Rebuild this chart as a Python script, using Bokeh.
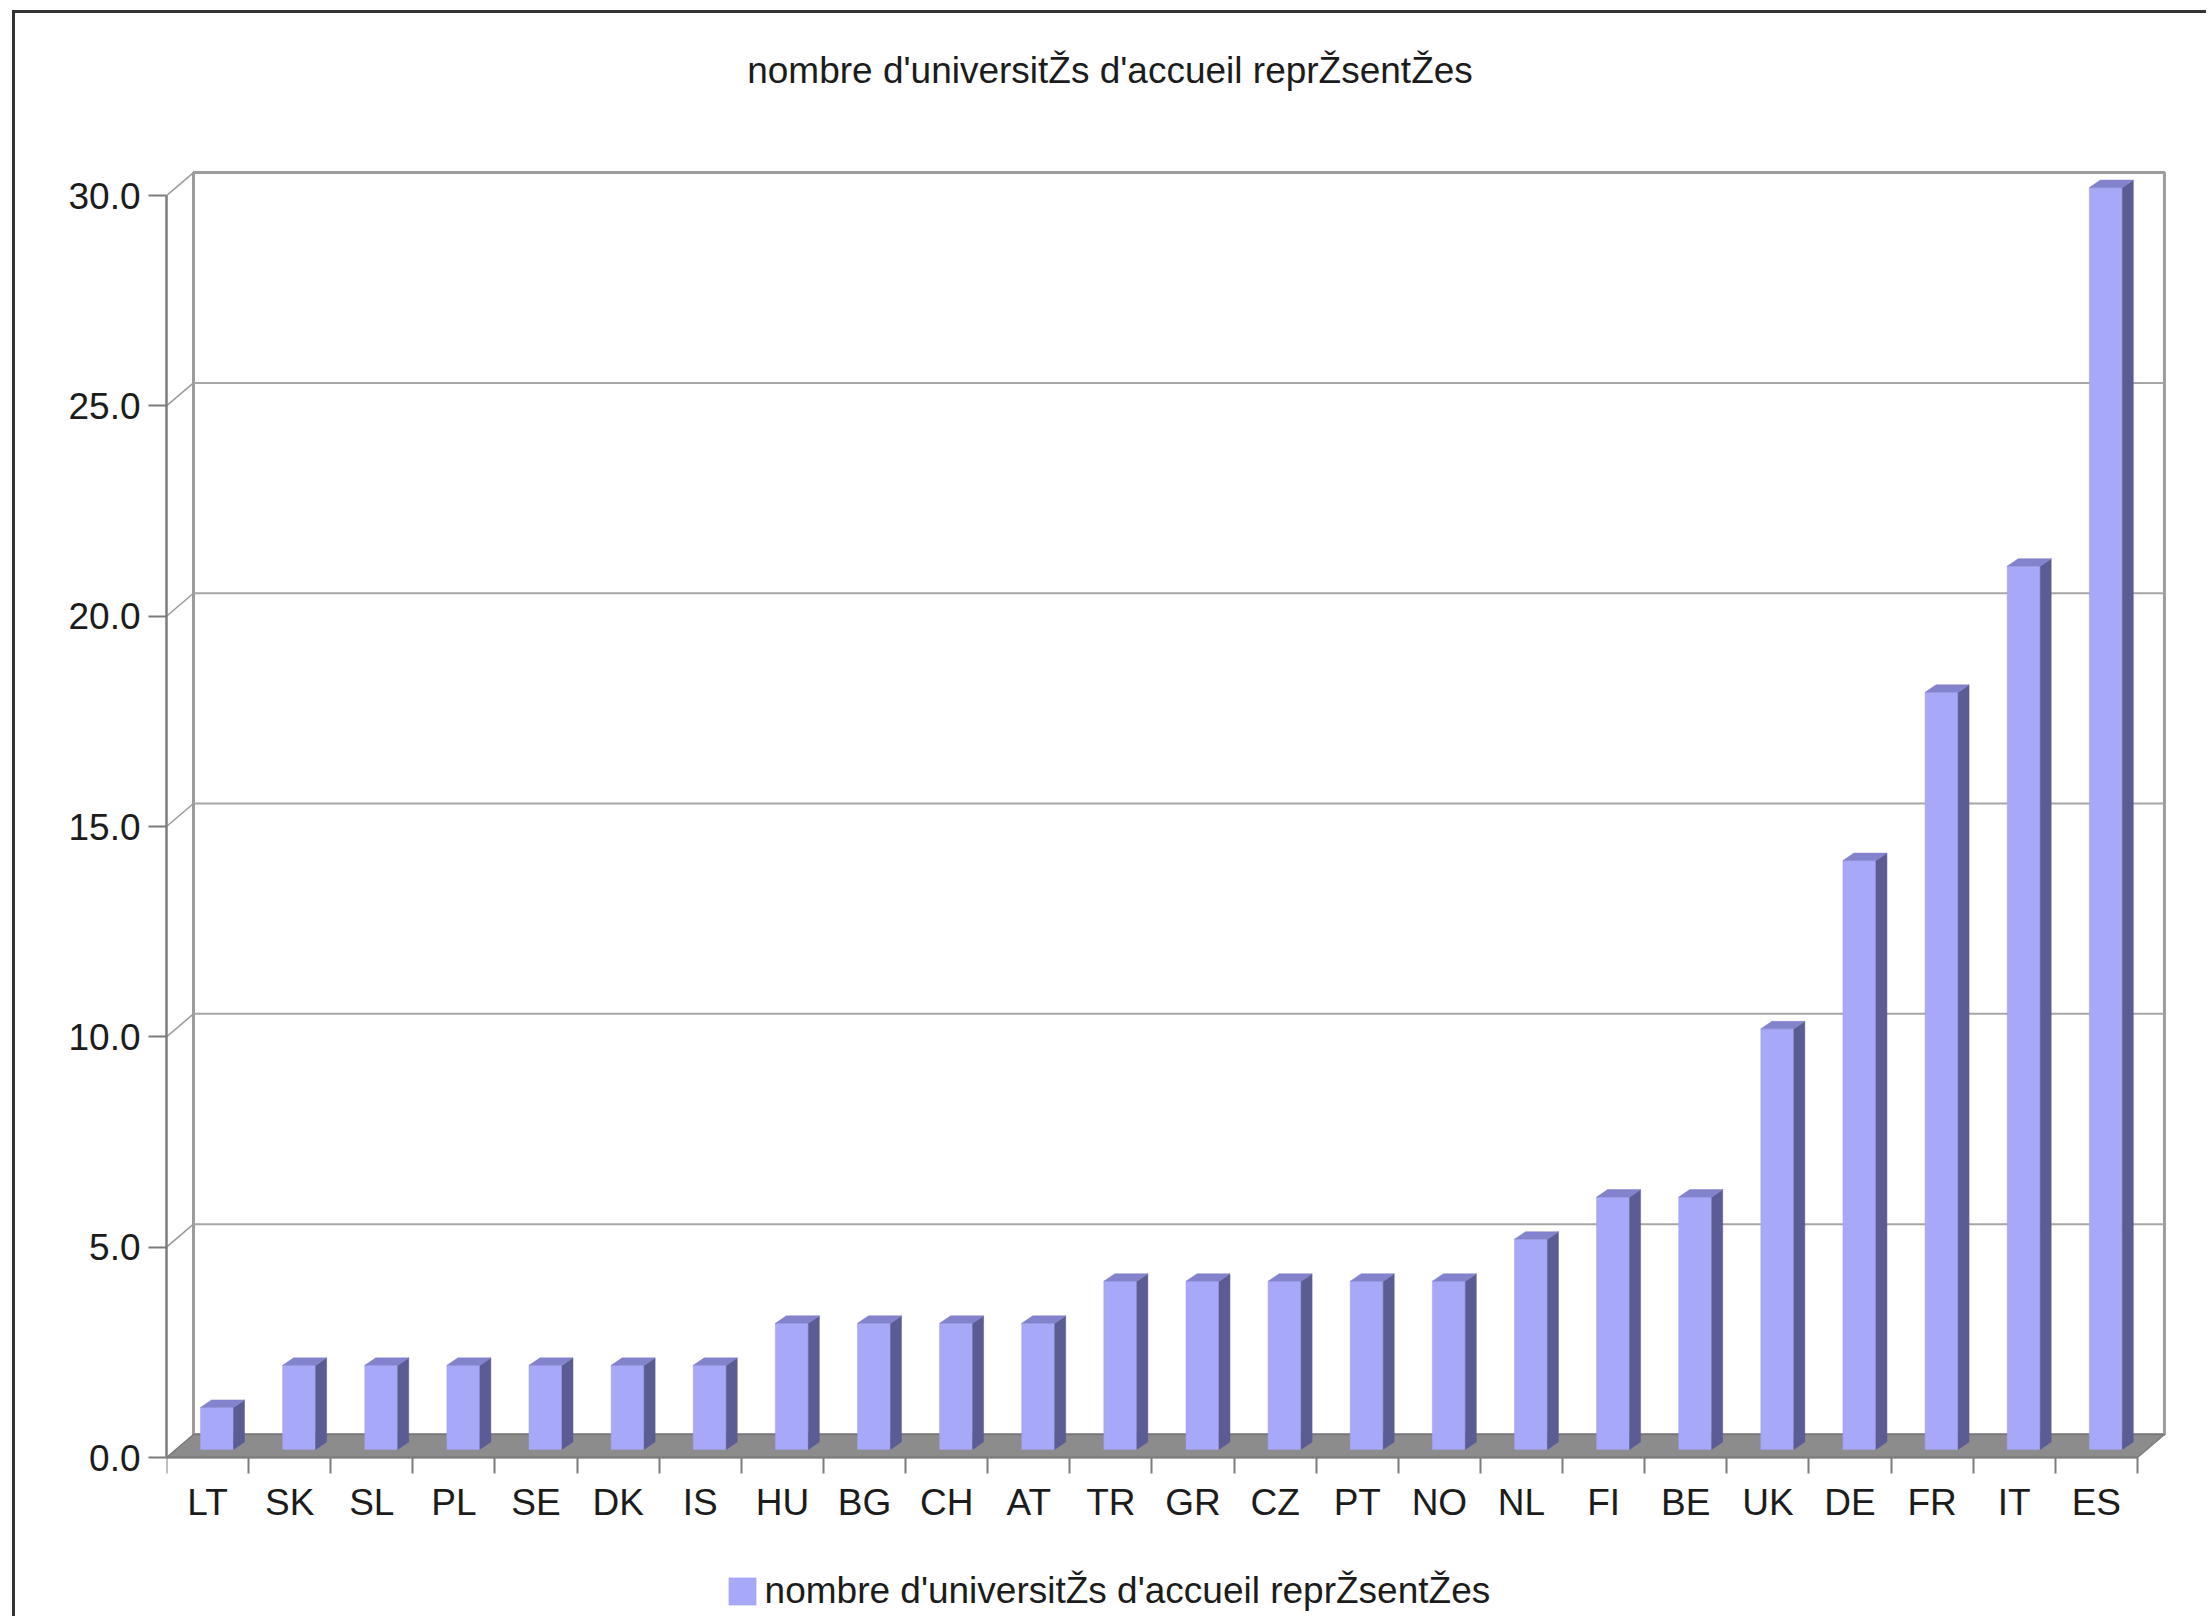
from bokeh.plotting import figure
from bokeh.models import (Range1d, LinearAxis, FixedTicker, Legend, LegendItem,
                          ColumnDataSource, Label)
from bokeh.embed import file_html
from bokeh.resources import INLINE

# ---------------- data ----------------
countries = ["LT", "SK", "SL", "PL", "SE", "DK", "IS", "HU", "BG", "CH", "AT", "TR",
             "GR", "CZ", "PT", "NO", "NL", "FI", "BE", "UK", "DE", "FR", "IT", "ES"]
values = [1, 2, 2, 2, 2, 2, 2, 3, 3, 3, 3, 4, 4, 4, 4, 4, 5, 6, 6, 10, 14, 18, 21, 30]
y_ticks = [0, 5, 10, 15, 20, 25, 30]
y_tick_labels = ["0.0", "5.0", "10.0", "15.0", "20.0", "25.0", "30.0"]
series_name = "nombre d'universitŽs d'accueil reprŽsentŽes"
chart_title = "nombre d'universitŽs d'accueil reprŽsentŽes"

# ---------------- style / geometry ----------------
FONT = "Liberation Sans"
TXT = "#1c1c1c"
N = len(countries)
X_END = N + 0.5
W, H = 2194, 1606
MB_L, MB_R = 151, 31
ABOVE = 140                      # room over the chart area (title)
BELOW = 162                      # room under the value axis (labels + legend)
px_x = (W - MB_L - MB_R) / X_END
px_y = (H - ABOVE - BELOW) / 31
Y_START = -BELOW / px_y
Y_END = 31 + ABOVE / px_y
DX = 27 / px_x          # depth offset of back wall (x)
DY = 23 / px_y          # depth offset of back wall (y)
BAR_L = 34 / px_x       # front face left inside category
BAR_W = 33 / px_x       # front face width
BAR_Y0 = 8 / px_y       # front face bottom
SDX = 11 / px_x         # bar depth (x)
SDY = 7.5 / px_y        # bar depth (y)
YMAX = max(y_ticks)

p = figure(width=W, height=H, output_backend="svg", toolbar_location=None,
           x_range=Range1d(0, X_END), y_range=Range1d(Y_START, Y_END),
           min_border_left=MB_L, min_border_right=MB_R,
           min_border_top=0, min_border_bottom=0,
           x_axis_type=None, y_axis_type=None,
           margin=(10, 0, 0, 12))
p.styles = {"border-top": "3px solid #333333", "border-left": "3px solid #333333"}
p.background_fill_color = "white"
p.border_fill_color = "white"
p.outline_line_color = None
p.xgrid.visible = False
p.ygrid.visible = False
p.title.visible = False

# back wall
p.quad(left=[DX], right=[N + DX], bottom=[DY], top=[YMAX + DY],
       fill_color="white", line_color="#9c9c9c", line_width=3)
# grid lines on back wall
gl = [t for t in y_ticks if 0 < t < YMAX]
p.multi_line(xs=[[DX, N + DX] for _ in gl], ys=[[t + DY, t + DY] for t in gl],
             line_color="#a6a6a6", line_width=2)
# side-wall diagonals
p.multi_line(xs=[[0, DX] for t in y_ticks[1:]], ys=[[t, t + DY] for t in y_ticks[1:]],
             line_color="#9a9a9a", line_width=1.5)
# floor
p.patch(x=[0, N, N + DX, DX], y=[0, 0, DY, DY], fill_color="#8c8c8c",
        line_color="#7a7a7a", line_width=1.5)

# bars
xl = [i + BAR_L for i in range(N)]
xr = [i + BAR_L + BAR_W for i in range(N)]
src = ColumnDataSource(dict(left=xl, right=xr, bottom=[BAR_Y0] * N,
                            top=[v + BAR_Y0 for v in values]))
front = p.quad(left="left", right="right", bottom="bottom", top="top", source=src,
               fill_color="#a8a8f8", line_color="#a0a0f0", line_width=0.5)
side_xs = [[r, r + SDX, r + SDX, r] for r in xr]
side_ys = [[BAR_Y0, BAR_Y0 + SDY, v + BAR_Y0 + SDY, v + BAR_Y0] for v in values]
p.patches(xs=side_xs, ys=side_ys, fill_color="#5c5c94", line_color="#5c5c94", line_width=0.5)
top_xs = [[l, r, r + SDX, l + SDX] for l, r in zip(xl, xr)]
top_ys = [[v + BAR_Y0, v + BAR_Y0, v + BAR_Y0 + SDY, v + BAR_Y0 + SDY] for v in values]
p.patches(xs=top_xs, ys=top_ys, fill_color="#8282cd", line_color="#8282cd", line_width=0.5)

# y axis
yax = LinearAxis(ticker=FixedTicker(ticks=y_ticks, minor_ticks=[]),
                 major_label_overrides={t: s for t, s in zip(y_ticks, y_tick_labels)},
                 bounds=(0, YMAX))
yax.axis_line_color = "#7c7c7c"
yax.axis_line_width = 2.5
yax.major_tick_line_color = "#7c7c7c"
yax.major_tick_line_width = 2
yax.major_tick_out = 18
yax.major_tick_in = 0
yax.major_label_standoff = 8
yax.major_label_text_font = FONT
yax.major_label_text_font_size = "37px"
yax.major_label_text_color = TXT
p.add_layout(yax, "left")

# x axis (placed at value 0): labels at category centres, minor ticks at boundaries
centers = [i + 0.5 for i in range(N)]
bounds_t = [float(i) for i in range(N + 1)]
xax = LinearAxis(ticker=FixedTicker(ticks=centers, minor_ticks=bounds_t),
                 major_label_overrides={c: s for c, s in zip(centers, countries)},
                 bounds=(0, N), fixed_location=0)
xax.axis_line_color = "#7c7c7c"
xax.axis_line_width = 2
xax.major_tick_line_color = None
xax.major_tick_out = 0
xax.major_tick_in = 0
xax.minor_tick_line_color = "#7c7c7c"
xax.minor_tick_line_width = 2
xax.minor_tick_out = 16
xax.minor_tick_in = 0
xax.major_label_standoff = 8
xax.major_label_text_font = FONT
xax.major_label_text_font_size = "37px"
xax.major_label_text_color = TXT
p.add_layout(xax, "below")

# title (centred on the page)
title = Label(x=(1109.5 - 166) / px_x, y=Y_END - 57 / px_y, text=chart_title,
              text_align="center", text_baseline="middle",
              text_font=FONT, text_font_size="37px", text_color=TXT)
p.add_layout(title)

# legend
legend = Legend(items=[LegendItem(label=series_name, renderers=[front])],
                location=(558.6, 7), orientation="horizontal",
                padding=0, margin=0, spacing=0, label_standoff=6,
                glyph_width=34, glyph_height=34, label_height=34,
                border_line_alpha=0, background_fill_alpha=0,
                label_text_font=FONT, label_text_font_size="37px",
                label_text_color=TXT)
p.add_layout(legend, "center")

open("out.html", "w").write(file_html(p, INLINE))
